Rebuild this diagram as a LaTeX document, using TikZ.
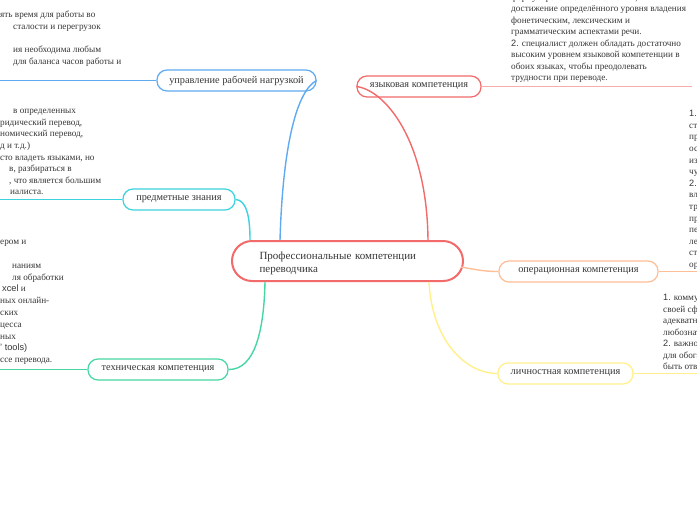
\documentclass[tikz,border=0pt]{standalone}
\usepackage{fontspec}
\setmainfont{Liberation Serif}
\newfontfamily\sansf{Liberation Sans}
\usetikzlibrary{calc}
\definecolor{cred}{RGB}{242,106,106}
\definecolor{cpink}{RGB}{248,172,172}
\definecolor{cblue}{RGB}{95,170,240}
\definecolor{ccyan}{RGB}{60,210,222}
\definecolor{cgreen}{RGB}{70,215,162}
\definecolor{corange}{RGB}{255,190,150}
\definecolor{cyellow}{RGB}{255,240,140}
\definecolor{ctext}{RGB}{55,55,55}
\begin{document}
\begin{tikzpicture}[x=1pt,y=-1pt,
  topic/.style={draw, rounded corners=10pt, fill=white, line width=1.2pt,
    minimum height=21pt, inner sep=0pt, text=ctext, font=\fontsize{10.3}{12}\selectfont},
  note/.style={anchor=base west, inner sep=0pt, text=ctext, font=\fontsize{9.2}{11.6}\selectfont},
  branch/.style={line width=1.4pt},
  uline/.style={line width=1.1pt}
]
\useasboundingbox (0,0) rectangle (697,520);
\fill[white] (0,0) rectangle (697,520);

% central
\node[draw=cred, line width=2pt, rounded corners=20pt, fill=white, minimum width=231pt,
  minimum height=40pt, text width=176pt, align=left, inner sep=0pt, text=ctext,
  font=\fontsize{11}{13}\selectfont] (central) at (347.5,261)
  {\rule{0pt}{11.5pt}Профессиональные компетенции\\переводчика};

% topics
\node[topic, draw=cblue, minimum width=159pt] (upr) at (236.5,80.5) {управление рабочей нагрузкой};
\node[topic, draw=ccyan, minimum width=112pt] (pred) at (179,199.5) {предметные знания};
\node[topic, draw=cgreen, minimum width=140pt] (tech) at (158,369.5) {техническая компетенция};
\node[topic, draw=cred, minimum width=124pt] (lang) at (419,86.5) {языковая компетенция};
\node[topic, draw=corange, minimum width=159pt] (oper) at (578.5,271.5) {операционная компетенция};
\node[topic, draw=cyellow, minimum width=135pt] (pers) at (565.5,373.5) {личностная компетенция};

% free ends of the underlines
\coordinate (eupr) at (0,80.5);
\coordinate (epred) at (0,199.5);
\coordinate (etech) at (0,369.5);
\coordinate (elang) at (692,86.5);
\coordinate (eoper) at (697,271.5);
\coordinate (epers) at (697,373.5);

\draw[uline, cblue] (upr.west) -- (eupr);
\draw[uline, ccyan] (pred.west) -- (epred);
\draw[uline, cgreen] (tech.west) -- (etech);
\draw[uline, cpink] (lang.east) -- (elang);
\draw[uline, corange] (oper.east) -- (eoper);
\draw[uline, cyellow] (pers.east) -- (epers);

% branches
\draw[branch, cblue] ($(central.north west)+(49,0)$) .. controls (283,140) and (298,90) .. (upr.east);
\draw[branch, ccyan] ($(central.north west)+(19,0)$) .. controls (250,215) and (246,200) .. (pred.east);
\draw[branch, cgreen] ($(central.south west)+(34,0)$) .. controls (264,330) and (255,370) .. (tech.east);
\draw[branch, cred] (lang.west) .. controls (385,90) and (427,140) .. ($(central.north east)+(-36,0)$);
\draw[branch, corange] ($(central.east)+(-3,6)$) .. controls (478,270) and (485,271.5) .. (oper.west);
\draw[branch, cyellow] ($(central.south east)+(-35,0)$) .. controls (432,340) and (465,373.5) .. (pers.west);

% notes: управление рабочей нагрузкой
\foreach \tx/\dx/\yy [count=\i] in {
  {ять время для работы во}/0/15,
  {сталости и перегрузок}/13/26.6,
  {ия необходима любым}/13/49.8,
  {для баланса часов работы и}/13/61.4}
  \node[note] (na\i) at (\dx,{\yy+2.6}) {\tx};

% notes: предметные знания
\foreach \tx/\dx/\yy [count=\i] in {
  {в определенных}/13/111,
  {ридический перевод,}/0/122.6,
  {номический перевод,}/0/134.2,
  {д и т.д.)}/0/145.8,
  {сто владеть языками, но}/0/157.4,
  {в, разбираться в}/9/169,
  {, что является большим}/9/180.6,
  {иалиста.}/10/192.2}
  \node[note] (nb\i) at (\dx,{\yy+2.6}) {\tx};

% notes: техническая компетенция
\foreach \tx/\dx/\yy [count=\i] in {
  {ером и}/0/242,
  {наниям}/12/265.6,
  {ля обработки}/12/277.4,
  {{\sansf xcel} и}/2/289.2,
  {ных онлайн-}/0/301,
  {ских}/0/312.8,
  {цесса}/0/324.6,
  {ных}/0/336.4,
  {{\sansf ’ tools)}}/0/348.2,
  {ссе перевода.}/0/360}
  \node[note] (nc\i) at (\dx,{\yy+2.6}) {\tx};

% notes: языковая компетенция
\foreach \tx/\yy [count=\i] in {
  {формулирование высказываний,}/-2.5,
  {достижение определённого уровня владения}/9,
  {фонетическим, лексическим и}/20.5,
  {грамматическим аспектами речи.}/32,
  {{\sansf 2.} специалист должен обладать достаточно}/43.5,
  {высоким уровнем языковой компетенции в}/55,
  {обоих языках, чтобы преодолевать}/66.5,
  {трудности при переводе.}/78}
  \node[note] (nd\i) at (511,{\yy+2.6}) {\tx};

% notes: операционная компетенция
\foreach \tx/\yy [count=\i] in {
  {{\sansf 1.}}/114, {ст}/125.6, {пр}/137.2, {ос}/148.8, {из}/160.4, {чу}/172,
  {{\sansf 2.}}/183.6, {вл}/195.2, {тр}/206.8, {пр}/218.4, {пе}/230, {ле}/241.6,
  {ст}/253.2, {ор}/264.8}
  \node[note] (ne\i) at (689,{\yy+2.6}) {\tx};

% notes: личностная компетенция
\foreach \tx/\yy [count=\i] in {
  {{\sansf 1.} коммун}/298,
  {своей сфе}/309.5,
  {адекватно}/321,
  {любознат}/332.5,
  {{\sansf 2.} важно}/344,
  {для обога}/355.5,
  {быть отве}/367}
  \node[note] (nf\i) at (663,{\yy+2.6}) {\tx};
\end{tikzpicture}
\end{document}
